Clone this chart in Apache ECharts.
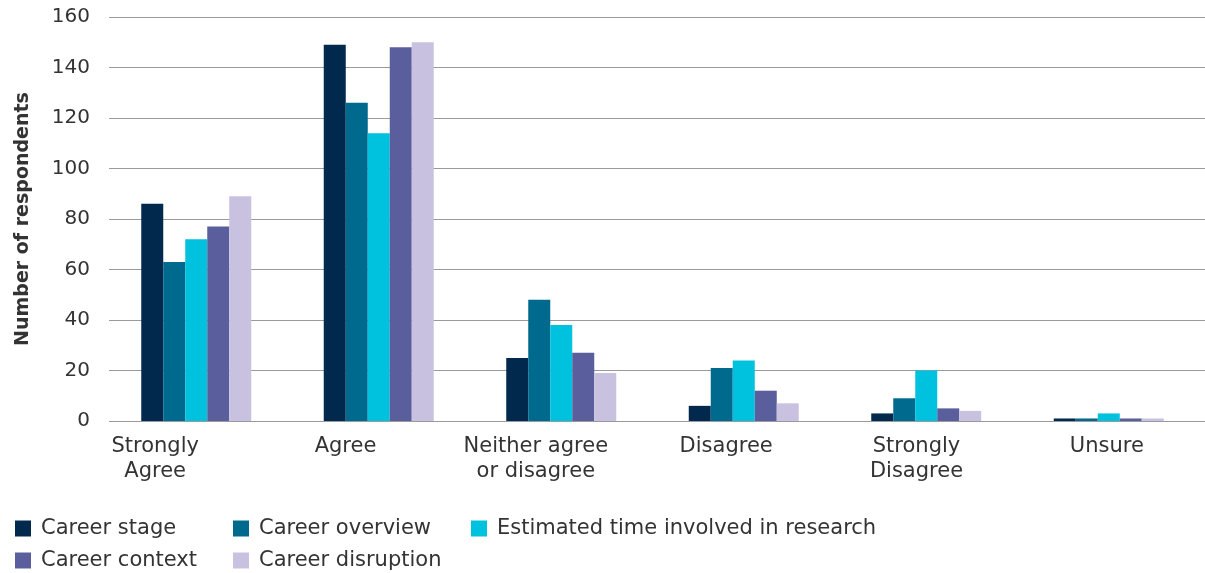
<!DOCTYPE html>
<html>
<head>
<meta charset="utf-8">
<script src="https://cdn.jsdelivr.net/npm/echarts@6/dist/echarts.min.js"></script>
<style>
html,body{margin:0;padding:0;background:#fff;}
#chart{width:1205px;height:573px;}
</style>
</head>
<body>
<div id="chart"></div>
<script>
const categories = ["Strongly\nAgree", "Agree", "Neither agree\nor disagree", "Disagree", "Strongly\nDisagree", "Unsure"];
const seriesNames = ["Career stage", "Career overview", "Estimated time involved in research", "Career context", "Career disruption"];
const careerStage = [86, 149, 25, 6, 3, 1];
const careerOverview = [63, 126, 48, 21, 9, 1];
const estimatedTime = [72, 114, 38, 24, 20, 3];
const careerContext = [77, 148, 27, 12, 5, 1];
const careerDisruption = [89, 150, 19, 7, 4, 1];
const yTicks = {min: 0, max: 160, interval: 20};

const colors = ["#00294d", "#006a8e", "#00c1de", "#5a5e9c", "#c8c2e0"];
const values = [careerStage, careerOverview, estimatedTime, careerContext, careerDisruption];
const font = "'DejaVu Sans', sans-serif";
const textColor = "#333333";

const legendPos = [
  {left: 15, top: 518},
  {left: 233, top: 518},
  {left: 471, top: 518},
  {left: 15, top: 550},
  {left: 233, top: 550}
];

const chart = echarts.init(document.getElementById('chart'), null, {renderer: 'canvas'});
chart.setOption({
  animation: false,
  color: colors,
  textStyle: {fontFamily: font},
  grid: [
    {left: 105, right: 5, top: 17, bottom: 152},
    {left: 60, right: 3, top: 17, bottom: 152},
    {left: 109, right: 0, top: 17, bottom: 152}
  ],
  legend: legendPos.map((p, i) => ({
    left: p.left, top: p.top,
    data: [seriesNames[i]],
    icon: 'rect', itemWidth: 16, itemHeight: 16,
    padding: 0,
    textStyle: {fontFamily: font, fontSize: 21, color: textColor, padding: [0, 0, 0, 5]}
  })),
  xAxis: [{
    type: 'category',
    gridIndex: 0,
    data: categories,
    axisTick: {show: false},
    axisLine: {show: false},
    axisLabel: {show: false}
  }, {
    type: 'category',
    gridIndex: 1,
    data: categories,
    axisTick: {show: false},
    axisLine: {show: false},
    axisLabel: {fontFamily: font, fontSize: 21, color: textColor, lineHeight: 25, margin: 13, interval: 0}
  }, {
    type: 'category',
    gridIndex: 2,
    data: categories,
    show: false
  }],
  yAxis: [{
    type: 'value',
    gridIndex: 0,
    min: yTicks.min, max: yTicks.max, interval: yTicks.interval,
    axisLine: {show: false},
    axisTick: {show: false},
    axisLabel: {show: false},
    splitLine: {show: false}
  }, {
    type: 'value',
    gridIndex: 1,
    min: yTicks.min, max: yTicks.max, interval: yTicks.interval,
    show: false
  }, {
    type: 'value',
    gridIndex: 2,
    min: yTicks.min, max: yTicks.max, interval: yTicks.interval,
    name: 'Number of respondents',
    nameLocation: 'middle',
    nameGap: 76,
    nameTextStyle: {fontFamily: font, fontSize: 19, fontWeight: 'bold', color: textColor},
    axisLine: {show: false},
    axisTick: {show: false},
    axisLabel: {fontFamily: font, fontSize: 20, color: textColor, margin: 19},
    splitLine: {lineStyle: {color: '#9a9a9a', width: 1.2}}
  }],
  series: seriesNames.map((n, i) => ({
    name: n,
    type: 'bar',
    xAxisIndex: 0,
    yAxisIndex: 0,
    data: values[i],
    barWidth: 22,
    barGap: '0%',
    z: 3,
    itemStyle: {color: colors[i]}
  }))
});
</script>
</body>
</html>
